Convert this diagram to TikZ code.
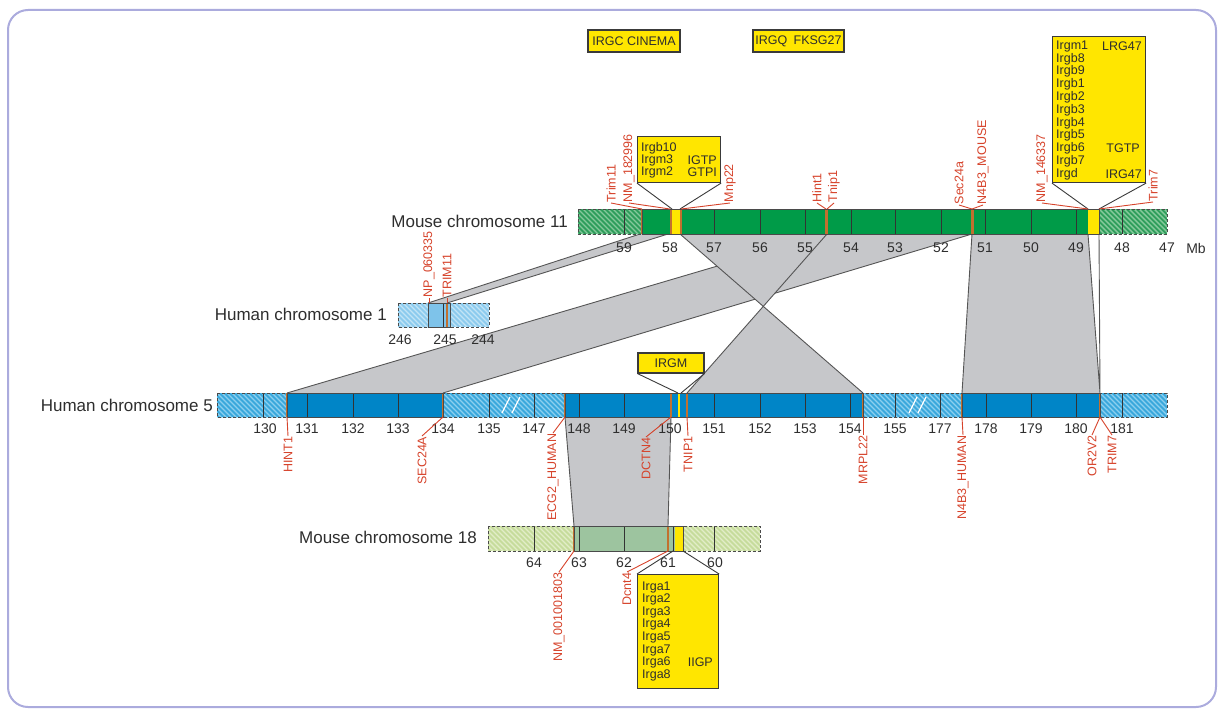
\documentclass[tikz,border=0pt]{standalone}
\usepackage{fontspec}
\setmainfont{Liberation Sans}
\definecolor{framec}{HTML}{ABABDD}
\definecolor{txtdark}{HTML}{2E2E2E}
\definecolor{genered}{HTML}{D6432B}
\definecolor{syngrey}{HTML}{C6C7CA}
\definecolor{synlinec}{HTML}{555555}
\definecolor{gyel}{HTML}{FFE600}
\definecolor{boxedge}{HTML}{3A3A3A}
\definecolor{divcol}{HTML}{333333}
\definecolor{markcol}{HTML}{C2702F}
\definecolor{edgecol}{HTML}{4A4A4A}
\definecolor{mgreen}{HTML}{009B48}
\definecolor{mgreenh}{HTML}{2F9E5C}
\definecolor{mgreens}{HTML}{86C99B}
\definecolor{hblue}{HTML}{0085C7}
\definecolor{hblueh}{HTML}{3AA8DC}
\definecolor{hblues}{HTML}{8DD0EF}
\definecolor{honeb}{HTML}{7EC3EA}
\definecolor{honeh}{HTML}{8CCBEE}
\definecolor{hones}{HTML}{C2E4F6}
\definecolor{meig}{HTML}{9DC49F}
\definecolor{meigh}{HTML}{C6DC9C}
\definecolor{meigs}{HTML}{E2EDC8}
\newcommand{\hatchseg}[6]{%
  \fill[#5] (#1,#3) rectangle (#2,#4);
  \begin{scope}
    \clip (#1,#3) rectangle (#2,#4);
    \pgfmathtruncatemacro\hsa{#1-30}%
    \pgfmathtruncatemacro\hsb{#1-25}%
    \foreach \s in {\hsa,\hsb,...,#2}
      \draw[#6,line width=1.4pt] (\s,#3) -- ++(30,30);
  \end{scope}
}
\begin{document}
\begin{tikzpicture}[x=1pt,y=-1pt,
  chrlab/.style={font=\fontsize{17}{20}\selectfont,text=txtdark,anchor=east,inner sep=0pt},
  ticklab/.style={font=\fontsize{14}{16}\selectfont,text=txtdark,inner sep=0pt},
  gene/.style={font=\fontsize{12.5}{14}\selectfont,text=genered,rotate=90,inner sep=0.5pt},
  leader/.style={draw=genered,line width=0.9pt},
  synfill/.style={fill=syngrey},
  synedge/.style={draw=synlinec,line width=0.9pt},
  ybox/.style={draw=boxedge,fill=gyel,line width=1.1pt,inner sep=0pt},
  boxtxt/.style={font=\fontsize{12.5}{14}\selectfont,text=txtdark,inner sep=0pt},
  divider/.style={draw=divcol,line width=0.9pt},
  markline/.style={draw=markcol,line width=2.2pt},
  solidedge/.style={draw=edgecol,line width=1pt},
  dashededge/.style={draw=edgecol,line width=1pt,dash pattern=on 3pt off 2pt},
  slash/.style={draw=white,line width=1.2pt}
]
\useasboundingbox (0,0) rectangle (1221,709);
\draw[framec,line width=2pt,rounded corners=20pt] (8,10) rectangle (1216,707);

% ---------- synteny blocks ----------
\coordinate (A1) at (826,234); \coordinate (A2) at (972,234);
\coordinate (A3) at (443,393); \coordinate (A4) at (287,393);
\fill[synfill] (A1)--(A2)--(A3)--(A4)--cycle;
\draw[synedge] (A1)--(A4) (A2)--(A3);

\coordinate (B1) at (680,234); \coordinate (B2) at (827,234);
\coordinate (B3) at (687,393); \coordinate (B4) at (863,393);
\fill[synfill] (B1)--(B4)--(B3)--(B2)--cycle;
\draw[synedge] (B1)--(B4) (B2)--(B3);

\coordinate (C1) at (972,234); \coordinate (C2) at (1088,234);
\coordinate (C3) at (1100,393); \coordinate (C4) at (962,393);
\coordinate (C5) at (1099,234);
\fill[synfill] (C1)--(C2)--(C3)--(C4)--cycle;
\draw[synedge] (C1)--(C4) (C2)--(C3) (C5)--(C3);

\coordinate (D1) at (428,303); \coordinate (D2) at (447,303);
\coordinate (D3) at (668,234); \coordinate (D4) at (640,234);
\fill[synfill] (D1)--(D2)--(D3)--(D4)--cycle;
\draw[synedge] (D1)--(D4) (D2)--(D3);

\coordinate (E1) at (565,417); \coordinate (E2) at (671,417);
\coordinate (E3) at (668,526); \coordinate (E4) at (574,526);
\fill[synfill] (E1)--(E2)--(E3)--(E4)--cycle;
\draw[synedge] (E1)--(E4) (E2)--(E3);

% ---------- Mouse chromosome 11 ----------
\hatchseg{578}{642}{209}{234}{mgreenh}{mgreens}
\fill[mgreen] (642,209) rectangle (1099,234);
\fill[gyel] (672,209) rectangle (680,234);
\fill[gyel] (1088,209) rectangle (1099,234);
\hatchseg{1099}{1167}{209}{234}{mgreenh}{mgreens}
\foreach \x in {624,714,760,805,851,895,941,985,1031,1076,1122}
  \draw[divider] (\x,209) -- (\x,234);
\foreach \x in {642,671,681}
  \draw[markline,line width=1.5pt] (\x,209) -- (\x,234);
\foreach \x in {826,972}
  \draw[markline,line width=3pt] (\x,209) -- (\x,234);
\draw[dashededge] (578,209) rectangle (642,234);
\draw[dashededge] (1099,209) rectangle (1167,234);
\draw[solidedge] (642,209) rectangle (1099,234);
\node[chrlab] (lab-m11) at (568,221) {Mouse chromosome 11};
\foreach \x/\l in {624/59,670/58,714/57,760/56,805/55,851/54,895/53,941/52,985/51,1031/50,1076/49,1122/48,1167/47}
  \node[ticklab] (t11-\l) at (\x,248) {\l};
\node[ticklab] (t11-mb) at (1196,248) {Mb};

% ---------- Human chromosome 1 ----------
\hatchseg{398}{489}{303}{327}{honeh}{hones}
\fill[honeb] (428,303) rectangle (450,327);
\draw[divider] (443,303) -- (443,327);
\draw[markline,line width=1.5pt] (447,303) -- (447,327);
\draw[dashededge] (398,303) rectangle (428,327);
\draw[dashededge] (450,303) rectangle (489,327);
\draw[solidedge] (428,303) rectangle (450,327);
\node[chrlab] (lab-h1) at (387,314) {Human chromosome 1};
\foreach \x/\l in {400/246,445/245,483/244}
  \node[ticklab] (t1-\l) at (\x,340) {\l};

% ---------- Human chromosome 5 ----------
\hatchseg{217}{287}{393}{417}{hblueh}{hblues}
\fill[hblue] (287,393) rectangle (443,417);
\hatchseg{443}{565}{393}{417}{hblueh}{hblues}
\fill[hblue] (565,393) rectangle (863,417);
\hatchseg{863}{962}{393}{417}{hblueh}{hblues}
\fill[hblue] (962,393) rectangle (1100,417);
\hatchseg{1100}{1167}{393}{417}{hblueh}{hblues}
\draw[slash] (502,413) -- (510,397) (512,413) -- (520,397);
\draw[slash] (909,413) -- (917,397) (918,413) -- (926,397);
\foreach \x in {263,307,353,398,489,534,579,624,714,760,805,850,895,940,986,1031,1076,1122}
  \draw[divider] (\x,393) -- (\x,417);
\foreach \x in {287,443,565,671,687,863,962,1100}
  \draw[markline,line width=1.6pt] (\x,393) -- (\x,417);
\draw[gyel,line width=1.6pt] (679,393) -- (679,417);
\draw[dashededge] (217,393) rectangle (287,417);
\draw[dashededge] (443,393) rectangle (565,417);
\draw[dashededge] (863,393) rectangle (962,417);
\draw[dashededge] (1100,393) rectangle (1167,417);
\draw[solidedge] (287,393) rectangle (443,417);
\draw[solidedge] (565,393) rectangle (863,417);
\draw[solidedge] (962,393) rectangle (1100,417);
\node[chrlab] (lab-h5) at (213,405) {Human chromosome 5};
\foreach \x/\l in {265/130,307/131,353/132,398/133,443/134,489/135,534/147,579/148,624/149,670/150,714/151,760/152,805/153,850/154,895/155,940/177,986/178,1031/179,1076/180,1122/181}
  \node[ticklab] (t5-\l) at (\x,429) {\l};

% ---------- Mouse chromosome 18 ----------
\hatchseg{488}{574}{526}{551}{meigh}{meigs}
\fill[meig] (574,526) rectangle (675,551);
\fill[gyel] (675,526) rectangle (683,551);
\hatchseg{683}{760}{526}{551}{meigh}{meigs}
\foreach \x in {534,579,624,673,714}
  \draw[divider] (\x,526) -- (\x,551);
\foreach \x in {574,668}
  \draw[markline,line width=1.6pt] (\x,526) -- (\x,551);
\draw[dashededge] (488,526) rectangle (574,551);
\draw[dashededge] (683,526) rectangle (760,551);
\draw[solidedge] (574,526) rectangle (683,551);
\node[chrlab] (lab-m18) at (477,537) {Mouse chromosome 18};
\foreach \x/\l in {534/64,579/63,624/62,668/61,715/60}
  \node[ticklab] (t18-\l) at (\x,563) {\l};

% ---------- yellow boxes ----------
\node[ybox,minimum width=92pt,minimum height=22pt,boxtxt,inner sep=0pt] (irgc) at (634,41) {IRGC CINEMA};
\node[ybox,minimum width=91pt,minimum height=22pt,boxtxt,inner sep=0pt] (irgq) at (798.5,41) {IRGQ\enspace FKSG27};

\node[ybox,minimum width=83pt,minimum height=46pt,anchor=north west] (irgb) at (637,136) {};
\node[boxtxt,anchor=west] (irgb-1) at (641,148) {Irgb10};
\node[boxtxt,anchor=west] (irgb-2) at (641,160) {Irgm3};
\node[boxtxt,anchor=west] (irgb-3) at (641,172) {Irgm2};
\node[boxtxt,anchor=east] (irgb-4) at (717,160) {IGTP};
\node[boxtxt,anchor=east] (irgb-5) at (717,172) {GTPI};
\coordinate (m11-y1l) at (672,209); \coordinate (m11-y1r) at (680,209);
\draw[synedge,draw=boxedge] (irgb.south west) -- (m11-y1l) (irgb.south east) -- (m11-y1r);

\node[ybox,minimum width=93pt,minimum height=146pt,anchor=north west] (irgm) at (1052,36) {};
\foreach \t [count=\i] in {Irgm1,Irgb8,Irgb9,Irgb1,Irgb2,Irgb3,Irgb4,Irgb5,Irgb6,Irgb7,Irgd}
  \node[boxtxt,anchor=west] (irgm-\i) at (1056,{46+12.8*(\i-1)}) {\t};
\node[boxtxt,anchor=east] (irgm-r1) at (1142,46) {LRG47};
\node[boxtxt,anchor=east] (irgm-r2) at (1140,148.4) {TGTP};
\node[boxtxt,anchor=east] (irgm-r3) at (1142,174) {IRG47};
\coordinate (m11-y2l) at (1088,209); \coordinate (m11-y2r) at (1099,209);
\draw[synedge,draw=boxedge] (irgm.south west) -- (m11-y2l) (irgm.south east) -- (m11-y2r);

\node[ybox,minimum width=66pt,minimum height=20pt,boxtxt] (irgmh) at (671,363) {IRGM};
\coordinate (h5-yl) at (678,393); \coordinate (h5-yr) at (681,393);
\draw[synedge,draw=boxedge] (irgmh.south west) -- (h5-yl) (irgmh.south east) -- (h5-yr);

\node[ybox,minimum width=81pt,minimum height=114pt,anchor=north west] (irga) at (637,574) {};
\foreach \t [count=\i] in {Irga1,Irga2,Irga3,Irga4,Irga5,Irga7,Irga6,Irga8}
  \node[boxtxt,anchor=west] (irga-\i) at (642,{587+12.6*(\i-1)}) {\t};
\node[boxtxt,anchor=east] (irga-r) at (713,662.6) {IIGP};
\coordinate (m18-yl) at (673,551); \coordinate (m18-yr) at (683,551);
\draw[synedge,draw=boxedge] (irga.north west) -- (m18-yl) (irga.north east) -- (m18-yr);

% ---------- gene labels: mouse chromosome 11 ----------
\foreach \n/\x/\y/\t/\bx in {trim11/611/203/Trim11/642, nm182/629/203/NM\_182996/670, mnp22/730/203/Mnp22/681, hint1/817/203/Hint1/826, tnip1/834/203/Tnip1/827, sec24a/959/205/Sec24a/972, n4b3m/983/205/N4B3\_MOUSE/972, nm146/1042/203/NM\_146337/1088, trim7/1153/202/Trim7/1099}
{
  \node[gene,anchor=west] (g-\n) at (\x,\y) {\t};
  \coordinate (b-\n) at (\bx,209);
  \draw[leader] (b-\n) -- (g-\n.west);
}
% ---------- human chromosome 1 ----------
\foreach \n/\x/\t in {np06/429/NP\_060335, trim11h/447/TRIM11}
{
  \node[gene,anchor=west] (g-\n) at (\x,298) {\t};
  \coordinate (b-\n) at (\x,303);
  \draw[leader] (b-\n) -- (g-\n.west);
}
% ---------- human chromosome 5 ----------
\foreach \n/\x/\y/\t/\bx in {hint1h/288/436/HINT1/287, sec24ah/422/436/SEC24A/443, ecg2/553/433/ECG2\_HUMAN/565, dctn4/646/437/DCTN4/671, tnip1h/688/436/TNIP1/687, mrpl22/863/435/MRPL22/863, n4b3h/963/435/N4B3\_HUMAN/962, or2v2/1092/435/OR2V2/1100, trim7h/1112/435/TRIM7/1100}
{
  \node[gene,anchor=east] (g-\n) at (\x,\y) {\t};
  \coordinate (b-\n) at (\bx,417);
  \draw[leader] (b-\n) -- (g-\n.east);
}
% ---------- mouse chromosome 18 ----------
\foreach \n/\x/\t/\bx in {nm0010/559/NM\_001001803/574, dcnt4/627/Dcnt4/668}
{
  \node[gene,anchor=east] (g-\n) at (\x,572) {\t};
  \coordinate (b-\n) at (\bx,551);
  \draw[leader] (b-\n) -- (g-\n.east);
}
\end{tikzpicture}
\end{document}
